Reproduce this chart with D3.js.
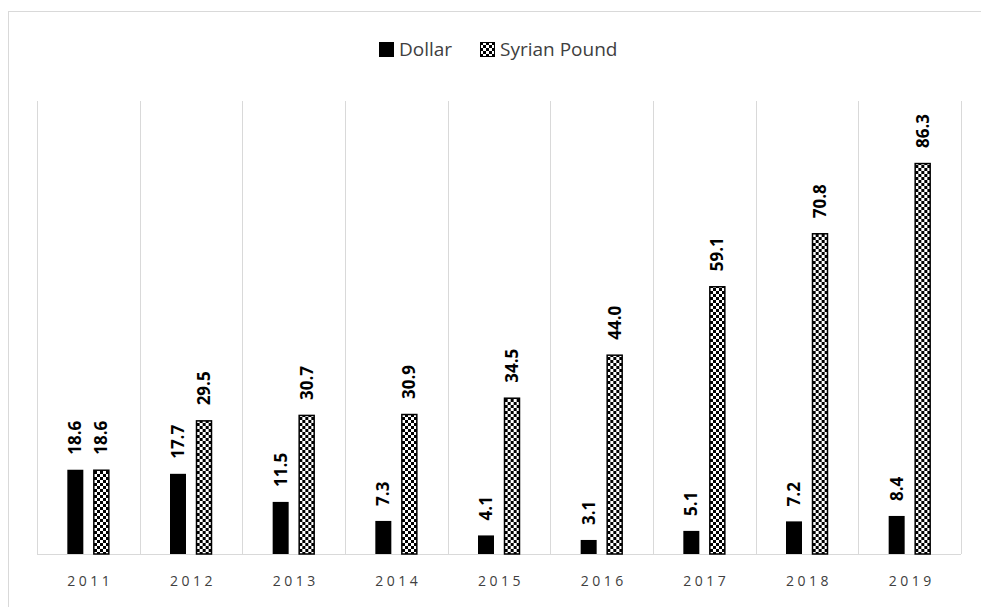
<!DOCTYPE html>
<html>
<head>
<meta charset="utf-8">
<script src="https://cdn.jsdelivr.net/npm/d3@7"></script>
<style>
  body { margin: 0; background: #fff; }
  svg { display: block; }
</style>
</head>
<body>
<div id="chart"></div>
<script>
const years = ["2011", "2012", "2013", "2014", "2015", "2016", "2017", "2018", "2019"]
const seriesNames = ["Dollar", "Syrian Pound"]
const dollar = [18.6, 17.7, 11.5, 7.3, 4.1, 3.1, 5.1, 7.2, 8.4]
const syrianPound = [18.6, 29.5, 30.7, 30.9, 34.5, 44.0, 59.1, 70.8, 86.3]

const width = 981
const height = 607
const margin = {top: 101, right: 20, bottom: 53, left: 37}

const svg = d3.select("#chart").append("svg")
  .attr("width", width)
  .attr("height", height)

// checker pattern for the Syrian Pound bars
const defs = svg.append("defs")
const pat = defs.append("pattern")
  .attr("id", "checker")
  .attr("patternUnits", "userSpaceOnUse")
  .attr("width", 6)
  .attr("height", 6)
pat.append("rect").attr("width", 6).attr("height", 6).attr("fill", "#fff")
pat.append("rect").attr("width", 3).attr("height", 3).attr("fill", "#000")
pat.append("rect").attr("x", 3).attr("y", 3).attr("width", 3).attr("height", 3).attr("fill", "#000")

// outer chart frame
svg.append("rect")
  .attr("x", 8.5).attr("y", 11.5)
  .attr("width", width + 20).attr("height", height + 20)
  .attr("fill", "none")
  .attr("stroke", "#d9d9d9")

const x = d3.scaleBand()
  .domain(years)
  .range([margin.left, width - margin.right])
  .paddingInner(0)

const bw = x.bandwidth()
const x1 = d3.scaleBand()
  .domain(seriesNames)
  .range([bw / 2 - 21, bw / 2 + 21])
  .paddingInner(0.385)

const y = d3.scaleLinear()
  .domain([0, 100])
  .range([height - margin.bottom, margin.top])

// vertical separators
svg.append("g")
  .selectAll("line")
  .data(years.concat(["end"]))
  .enter()
  .append("line")
  .attr("x1", (d, i) => Math.round(i < years.length ? x(d) : x.range()[1]) + 0.5)
  .attr("x2", (d, i) => Math.round(i < years.length ? x(d) : x.range()[1]) + 0.5)
  .attr("y1", y(100))
  .attr("y2", y(0))
  .attr("stroke", "#d9d9d9")

// baseline
svg.append("line")
  .attr("x1", x.range()[0]).attr("x2", x.range()[1])
  .attr("y1", y(0) + 0.5).attr("y2", y(0) + 0.5)
  .attr("stroke", "#d9d9d9")

const rows = years.map((yr, i) => ({year: yr, values: [
  {key: "Dollar", v: dollar[i]},
  {key: "Syrian Pound", v: syrianPound[i]}
]}))

const groups = svg.append("g")
  .selectAll("g")
  .data(rows)
  .enter()
  .append("g")
  .attr("transform", d => "translate(" + x(d.year) + ",0)")

groups.selectAll("rect")
  .data(d => d.values)
  .enter()
  .append("rect")
  .attr("x", d => x1(d.key) + (d.key === "Dollar" ? 0 : 0.5))
  .attr("y", d => y(d.v) + (d.key === "Dollar" ? 0 : 0.5))
  .attr("width", d => x1.bandwidth() - (d.key === "Dollar" ? 0 : 1))
  .attr("height", d => y(0) - y(d.v) - (d.key === "Dollar" ? 0 : 0.5))
  .attr("fill", d => d.key === "Dollar" ? "#000" : "url(#checker)")
  .attr("stroke", d => d.key === "Dollar" ? "none" : "#000")
  .attr("stroke-width", 1.5)

groups.selectAll("text")
  .data(d => d.values)
  .enter()
  .append("text")
  .attr("transform", d => "translate(" + (x1(d.key) + x1.bandwidth() / 2) + "," + (y(d.v) - 15) + ") rotate(-90)")
  .attr("dy", "0.36em")
  .attr("text-anchor", "start")
  .attr("font-family", "Open Sans, sans-serif")
  .attr("font-weight", "bold")
  .attr("font-size", "17px")
  .attr("fill", "#000")
  .text(d => d.v.toFixed(1))

// year labels
svg.append("g")
  .selectAll("text")
  .data(years)
  .enter()
  .append("text")
  .attr("x", d => x(d) + bw / 2 + 2)
  .attr("y", 586)
  .attr("text-anchor", "middle")
  .attr("font-family", "Open Sans, sans-serif")
  .attr("font-size", "14px")
  .attr("letter-spacing", "3.5px")
  .attr("fill", "#404040")
  .text(d => d)

// legend
const legend = svg.append("g")
const legendItems = [
  {name: "Dollar", fill: "#000", x: 379},
  {name: "Syrian Pound", fill: "url(#checker)", x: 480}
]
legendItems.forEach(it => {
  legend.append("rect")
    .attr("x", it.x + 0.5).attr("y", 42.5)
    .attr("width", 14).attr("height", 14)
    .attr("fill", it.fill)
    .attr("stroke", "#000")
  legend.append("text")
    .attr("x", it.x + 20)
    .attr("y", 56)
    .attr("font-family", "Open Sans, sans-serif")
    .attr("font-size", "19px")
    .attr("fill", "#404040")
    .text(it.name)
})
</script>
</body>
</html>
